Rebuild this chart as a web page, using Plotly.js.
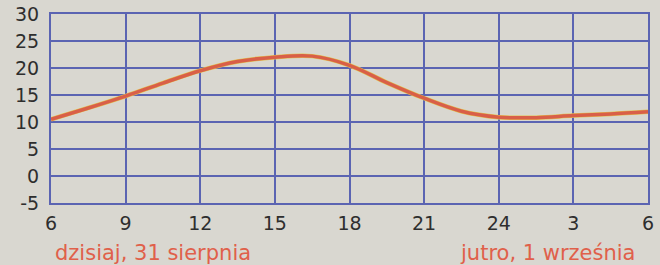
<!DOCTYPE html>
<html>
<head>
<meta charset="utf-8">
<script src="https://cdn.plot.ly/plotly-3.0.1.min.js"></script>
<style>html,body{margin:0;padding:0;background:#d9d7d0;}</style>
</head>
<body>
<div id="chart" style="width:660px;height:265px;"></div>
<script>
const hours = [0, 1.5, 3, 4.5, 6, 7.5, 9, 10.5, 12, 13.5, 15, 16.5, 18, 19.5, 21, 22.5, 24];
const temps = [10.5, 12.6, 14.8, 17.2, 19.5, 21.2, 22.0, 22.2, 20.5, 17.3, 14.4, 12.0, 10.9, 10.8, 11.2, 11.5, 11.9];
const tickPositions = [0, 3, 6, 9, 12, 15, 18, 21, 24];
const tickLabels = ["6", "9", "12", "15", "18", "21", "24", "3", "6"];
const yTicks = [-5, 0, 5, 10, 15, 20, 25, 30];
const yTickLabels = ["-5", "0", "5", "10", "15", "20", "25", "30"];
const dayLabels = ["dzisiaj, 31 sierpnia", "jutro, 1 września"];

const grid = "#5b64b2";
const data = [
  {x: hours, y: temps, mode: "lines", line: {color: "#e3c24e", width: 4.5, shape: "spline"}, hoverinfo: "skip"},
  {x: hours, y: temps, mode: "lines", line: {color: "#d95f48", width: 3.5, shape: "spline"}, hoverinfo: "skip"}
];
const layout = {
  width: 660, height: 265,
  margin: {l: 51, r: 12, t: 14, b: 62},
  paper_bgcolor: "#d9d7d0",
  plot_bgcolor: "#d9d7d0",
  showlegend: false,
  font: {family: "DejaVu Sans, Verdana, sans-serif", size: 19, color: "#2e2e2e"},
  xaxis: {
    range: [0, 24], tickvals: tickPositions, ticktext: tickLabels,
    showgrid: true, gridcolor: grid, gridwidth: 2,
    showline: true, linecolor: grid, linewidth: 2, mirror: true,
    zeroline: false, ticks: "", ticklabelstandoff: 2, fixedrange: true
  },
  yaxis: {
    range: [-5, 30], tickvals: yTicks, ticktext: yTickLabels,
    showgrid: true, gridcolor: grid, gridwidth: 2,
    showline: true, linecolor: grid, linewidth: 2, mirror: true,
    zeroline: false, ticks: "", ticklabelstandoff: 6, fixedrange: true
  },
  annotations: [
    {text: dayLabels[0], xref: "paper", yref: "paper", x: 0.003, y: -0.265, xanchor: "left", yanchor: "middle", showarrow: false, font: {size: 21, color: "#e0604a"}},
    {text: dayLabels[1], xref: "paper", yref: "paper", x: 0.983, y: -0.265, xanchor: "right", yanchor: "middle", showarrow: false, font: {size: 21, color: "#e0604a"}}
  ]
};
Plotly.newPlot("chart", data, layout, {displayModeBar: false, staticPlot: true});
</script>
</body>
</html>
